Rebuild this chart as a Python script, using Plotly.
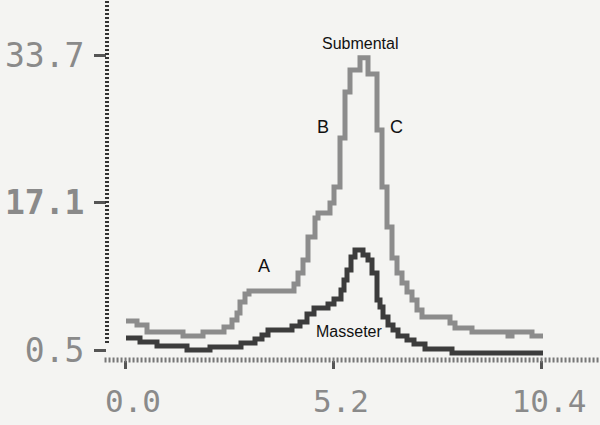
"""
Submental vs masseter activity, step traces on a scanned-style chart.
"""

import plotly.graph_objects as go

# Submental trace (step starts, values)
SUB_X = [0.025, 0.30, 0.55, 1.45, 1.95, 2.475, 2.675, 2.80, 2.875, 3.00, 3.10,
         4.225, 4.325, 4.45, 4.575, 4.75, 4.825, 5.125, 5.225, 5.375, 5.50,
         5.625, 5.875, 6.075, 6.30, 6.425, 6.55, 6.675, 6.80, 6.925, 7.05,
         7.175, 7.30, 7.425, 8.125, 8.25, 8.675, 9.575, 9.675, 10.175, 10.45]
SUB_Y = [3.76, 3.31, 2.53, 2.08, 2.53, 3.09, 3.88, 4.66, 5.90, 6.80, 7.14,
         7.93, 9.17, 10.63, 13.22, 15.35, 15.92, 17.04, 18.84, 24.36, 29.53,
         32.01, 33.40, 31.56, 25.26, 18.84, 14.34, 10.85, 9.17, 8.04, 7.03,
         6.13, 5.00, 4.21, 3.54, 2.98, 2.53, 2.08, 2.53, 2.08, 2.08]

# Masseter trace
MAS_X = [0.025, 0.375, 0.80, 1.55, 2.125, 2.90, 3.25, 3.425, 3.575, 4.175,
         4.375, 4.55, 4.725, 5.075, 5.225, 5.40, 5.475, 5.55, 5.65, 5.75,
         5.95, 6.075, 6.175, 6.30, 6.375, 6.45, 6.575, 6.70, 6.825, 7.05,
         7.225, 7.50, 8.175, 10.45]
MAS_Y = [1.85, 1.40, 0.95, 0.50, 0.84, 1.29, 1.74, 2.19, 2.75, 3.20,
         3.65, 4.55, 5.23, 5.68, 6.24, 7.25, 8.38, 9.50, 10.97, 11.75,
         11.19, 10.63, 9.17, 6.13, 5.34, 4.21, 3.31, 2.75, 2.08, 1.63,
         1.18, 0.61, 0.16, 0.16]

X_TICKS = [0.0, 5.2, 10.4]
X_TICK_TEXT = ["0.0", "5.2", "10.4"]
Y_TICKS = [0.5, 17.1, 33.7]
Y_TICK_TEXT = ["0.5", "<b>17.1</b>", "33.7"]

# text labels: (text, x, y, size)
LABELS = [
    ("Submental", 5.875, 35.05, 16),
    ("B", 4.95, 25.6, 18),
    ("C", 6.775, 25.6, 18),
    ("A", 3.475, 9.95, 18),
    ("Masseter", 5.6, 2.53, 16),
]

COLORS = {
    "background": "#f4f4f2",
    "submental": "#8c8c8c",
    "masseter": "#3c3c3c",
    "tick_text": "#8a8a8a",
    "axis_y": "#333333",
    "axis_x": "#777777",
}

X_RANGE = [-0.45, 11.875]
Y_RANGE = [-0.625, 39.89]

fig = go.Figure()

fig.add_trace(
    go.Scatter(
        x=SUB_X,
        y=SUB_Y,
        mode="lines",
        line=dict(color=COLORS["submental"], width=5, shape="hv"),
        name="Submental",
    )
)
fig.add_trace(
    go.Scatter(
        x=MAS_X,
        y=MAS_Y,
        mode="lines",
        line=dict(color=COLORS["masseter"], width=5, shape="hv"),
        name="Masseter",
    )
)

for text, x, y, size in LABELS:
    fig.add_annotation(
        text=text,
        x=x,
        y=y,
        showarrow=False,
        font=dict(family="Liberation Sans, Arial", size=size, color="#111111"),
    )

# dotted axis lines, like the old printout
fig.add_shape(
    type="line", xref="paper", yref="paper",
    x0=0, x1=0, y0=0.047, y1=1,
    line=dict(color=COLORS["axis_y"], width=4, dash="2px,2px"),
)
fig.add_shape(
    type="line", xref="paper", yref="paper",
    x0=-0.005, x1=1, y0=0, y1=0,
    line=dict(color=COLORS["axis_x"], width=5, dash="2px,2px"),
)

x_tick_font = dict(family="DejaVu Sans Mono", size=31, color=COLORS["tick_text"])
y_tick_font = dict(family="DejaVu Sans Mono", size=33, color=COLORS["tick_text"])

fig.update_layout(
    width=600,
    height=425,
    showlegend=False,
    paper_bgcolor=COLORS["background"],
    plot_bgcolor=COLORS["background"],
    margin=dict(l=107, r=0, t=0, b=65),
    xaxis=dict(
        range=X_RANGE,
        tickvals=X_TICKS,
        ticktext=X_TICK_TEXT,
        ticks="outside",
        ticklen=8,
        tickwidth=3,
        tickcolor="#555555",
        tickfont=x_tick_font,
        ticklabelshift=8,
        ticklabelstandoff=6,
        showgrid=False,
        zeroline=False,
        showline=False,
        automargin=False,
    ),
    yaxis=dict(
        range=Y_RANGE,
        tickvals=Y_TICKS,
        ticktext=Y_TICK_TEXT,
        ticks="outside",
        ticklen=12,
        tickwidth=3,
        tickcolor="#555555",
        tickfont=y_tick_font,
        ticklabelstandoff=3,
        showgrid=False,
        zeroline=False,
        showline=False,
        automargin=False,
    ),
    yaxis2=dict(
        range=Y_RANGE,
        overlaying="y",
        anchor="x",
        side="left",
        tickvals=Y_TICKS,
        ticks="inside",
        ticklen=12,
        tickwidth=3,
        tickcolor="#555555",
        showticklabels=False,
        showgrid=False,
        zeroline=False,
        showline=False,
    ),
)

fig.write_html(
    "out.html",
    config={"displayModeBar": False},
    post_script="document.body.style.margin='0';"
    "document.body.style.background='#f4f4f2';",
)
